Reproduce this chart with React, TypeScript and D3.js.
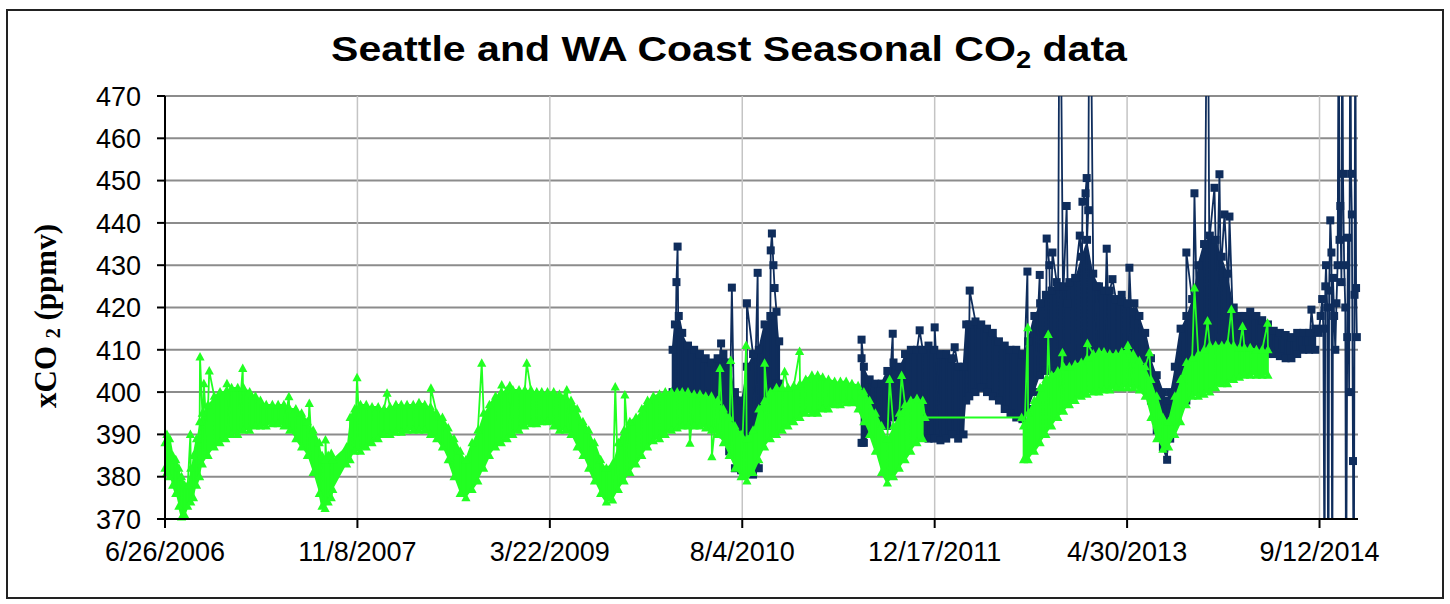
import React from "react";
import * as d3 from "d3";

const xTickLabels = ["6/26/2006", "11/8/2007", "3/22/2009", "8/4/2010", "12/17/2011", "4/30/2013", "9/12/2014"];
const yTickValues = [370, 380, 390, 400, 410, 420, 430, 440, 450, 460, 470];
const xDomainDates = ["2006-06-26", "2014-12-21"];

// Green (WA coast) series: envelope of the dense daily markers [date, low, high]
const greenBand: [string, number, number][] = [
  ["2006-06-26", 382, 388], ["2006-07-01", 381, 390], ["2006-07-08", 380, 389], ["2006-07-16", 378, 385],
  ["2006-07-24", 376, 384], ["2006-08-01", 373, 382], ["2006-08-08", 370.5, 380], ["2006-08-16", 371, 378],
  ["2006-08-24", 373, 378], ["2006-09-01", 374, 382], ["2006-09-08", 375, 385], ["2006-09-16", 378, 389],
  ["2006-09-24", 380, 393], ["2006-10-01", 383, 395], ["2006-10-16", 385, 397], ["2006-11-01", 387, 399],
  ["2006-11-16", 388, 400], ["2006-12-01", 389, 400], ["2006-12-16", 390, 401], ["2007-01-01", 390, 401],
  ["2007-01-16", 391, 401], ["2007-02-01", 391, 400], ["2007-02-16", 392, 399], ["2007-03-01", 392, 398],
  ["2007-03-16", 392, 397], ["2007-04-01", 392.5, 397], ["2007-04-16", 392.5, 397], ["2007-05-01", 392, 397],
  ["2007-05-16", 391, 396], ["2007-06-01", 389, 396], ["2007-06-16", 387, 395], ["2007-07-01", 385, 393],
  ["2007-07-16", 381, 391], ["2007-08-01", 376, 388], ["2007-08-08", 373, 385], ["2007-08-16", 372.5, 384],
  ["2007-08-24", 374, 385], ["2007-09-01", 375, 385.5], ["2007-09-05", 377, 384], ["2007-10-11", 383, 387],
  ["2007-10-20", 384, 394], ["2007-11-01", 386, 396], ["2007-11-16", 386, 397], ["2007-12-01", 387, 397],
  ["2007-12-16", 388, 396.5], ["2008-01-01", 389, 396.5], ["2008-01-16", 390, 396], ["2008-02-01", 390, 396.5],
  ["2008-02-16", 390.5, 397], ["2008-03-01", 390.5, 397], ["2008-03-16", 391, 397], ["2008-04-01", 391, 397],
  ["2008-04-16", 391, 397.5], ["2008-05-01", 391, 397], ["2008-05-16", 390, 396.5], ["2008-06-01", 389, 395],
  ["2008-06-16", 387, 394], ["2008-07-01", 384, 391.5], ["2008-07-16", 380, 389], ["2008-08-01", 376, 386],
  ["2008-08-16", 375, 384], ["2008-09-01", 377, 388], ["2008-09-16", 379, 391], ["2008-10-01", 382, 395],
  ["2008-10-16", 385, 397], ["2008-11-01", 387, 399], ["2008-11-16", 388, 400], ["2008-12-01", 389, 400.5],
  ["2008-12-16", 390, 400.5], ["2009-01-01", 391, 400.5], ["2009-01-16", 392, 400.5], ["2009-02-01", 392.5, 400.5],
  ["2009-02-16", 392.5, 400], ["2009-03-01", 393, 400], ["2009-03-16", 393, 400], ["2009-04-01", 392, 400],
  ["2009-04-16", 391, 399.5], ["2009-05-01", 391, 399], ["2009-05-16", 390, 398], ["2009-06-01", 387, 396],
  ["2009-06-16", 385, 393], ["2009-07-01", 382, 391], ["2009-07-16", 379, 388], ["2009-08-01", 376, 384],
  ["2009-08-16", 374, 382], ["2009-09-01", 374.5, 383], ["2009-09-16", 377, 388], ["2009-10-01", 379, 391],
  ["2009-10-16", 381, 393], ["2009-11-01", 383, 394], ["2009-11-16", 385, 396], ["2009-12-01", 387, 398],
  ["2009-12-16", 388.5, 399], ["2010-01-01", 389, 399.5], ["2010-01-16", 390, 400], ["2010-02-01", 391, 400],
  ["2010-02-16", 391.5, 400], ["2010-03-01", 392, 400], ["2010-03-16", 392, 400], ["2010-04-01", 392, 399.5],
  ["2010-04-16", 392, 399.5], ["2010-05-01", 391.5, 399], ["2010-05-16", 391, 399], ["2010-06-01", 390, 398],
  ["2010-06-16", 388, 396], ["2010-07-01", 385, 394], ["2010-07-16", 382, 392], ["2010-08-01", 380, 390],
  ["2010-08-16", 379, 389], ["2010-09-01", 381, 391], ["2010-09-16", 384, 396], ["2010-10-01", 387, 398],
  ["2010-10-16", 389, 400], ["2010-11-01", 390, 401], ["2010-11-16", 391, 401], ["2010-12-01", 392, 401],
  ["2010-12-16", 393, 401.5], ["2011-01-01", 394, 402], ["2011-01-16", 395, 403], ["2011-02-01", 395, 404],
  ["2011-02-16", 395, 404], ["2011-03-01", 396, 403.5], ["2011-03-16", 396, 403], ["2011-04-01", 397, 402.5],
  ["2011-04-16", 397, 402.5], ["2011-05-01", 397.5, 402.5], ["2011-05-16", 397.5, 402], ["2011-06-01", 396, 401.5],
  ["2011-06-16", 393, 400], ["2011-07-01", 390, 398], ["2011-07-16", 386, 395], ["2011-08-01", 381, 392],
  ["2011-08-16", 378.5, 389], ["2011-09-01", 380, 392], ["2011-09-16", 382, 395], ["2011-10-01", 384, 397],
  ["2011-10-16", 386, 398], ["2011-11-01", 388, 398.5], ["2011-11-16", 389, 398], ["2011-11-22", 394, 394],
  ["2012-07-30", 394, 394], ["2012-08-04", 384, 392], ["2012-08-16", 384, 395], ["2012-09-01", 386, 398],
  ["2012-09-16", 388, 401], ["2012-10-01", 390, 403], ["2012-10-16", 392, 404], ["2012-11-01", 394, 405],
  ["2012-11-16", 395.5, 406], ["2012-12-01", 397, 406], ["2012-12-16", 398, 406.5], ["2013-01-01", 399, 407],
  ["2013-01-16", 399.5, 408], ["2013-02-01", 400, 409], ["2013-02-16", 400, 409.5], ["2013-03-01", 400.5, 409.5],
  ["2013-03-16", 400.5, 409], ["2013-04-01", 401, 409], ["2013-04-16", 401, 409.5], ["2013-05-01", 401, 410],
  ["2013-05-16", 401, 409], ["2013-06-01", 400.5, 407.5], ["2013-06-16", 399, 406], ["2013-07-01", 394, 403],
  ["2013-07-16", 389, 399], ["2013-08-01", 386.5, 394], ["2013-08-16", 387, 393], ["2013-09-01", 390, 399],
  ["2013-09-16", 393, 403], ["2013-10-01", 397, 407], ["2013-10-16", 399, 408], ["2013-11-01", 399, 409],
  ["2013-11-16", 399.5, 410], ["2013-12-01", 400, 411], ["2013-12-16", 401, 411], ["2014-01-01", 402, 411],
  ["2014-01-16", 402, 411.5], ["2014-02-01", 403, 411], ["2014-02-16", 403.5, 410.5], ["2014-03-01", 404, 410.5],
  ["2014-03-16", 404, 410.5], ["2014-04-01", 404, 410], ["2014-04-16", 404, 410], ["2014-05-01", 404, 410],
];

const greenSpikes: [string, number][] = [
  ["2006-08-31", 390], ["2006-09-25", 408.3], ["2006-10-05", 402], ["2006-10-19", 405], ["2006-12-04", 402],
  ["2007-01-14", 405.6], ["2007-05-14", 398.9], ["2007-07-06", 397.3], ["2007-08-17", 388.7], ["2007-11-07", 403.4],
  ["2008-01-24", 399.7], ["2008-05-17", 400.9], ["2008-09-26", 406.8], ["2008-11-17", 401.7], ["2008-12-08", 401.5],
  ["2009-01-21", 406.8], ["2009-05-05", 400.5], ["2009-09-08", 401.2], ["2009-10-03", 399.3], ["2010-03-21", 387.9],
  ["2010-05-17", 384.7], ["2010-06-07", 405.6], ["2010-07-05", 407.5], ["2010-08-14", 411], ["2010-10-01", 406.8],
  ["2010-11-22", 404.8], ["2010-12-31", 409.6], ["2011-08-22", 403], ["2011-09-22", 403.9], ["2012-08-15", 415.2],
  ["2012-10-07", 413.6], ["2012-11-13", 409.3], ["2013-01-17", 411.5], ["2013-05-02", 411], ["2013-06-27", 409.3],
  ["2013-10-22", 424.6], ["2013-11-25", 416.8], ["2014-01-26", 419.5], ["2014-02-24", 415.5], ["2014-04-30", 416.3],
];

// Navy (Seattle) series envelope [date, low, high]; null marks the data gap
const navyBand: [string, number | null, number | null][] = [
  ["2010-02-04", 400, 410], ["2010-02-10", 399, 416], ["2010-02-20", 400, 418], ["2010-03-01", 399, 414],
  ["2010-03-16", 398.5, 411], ["2010-04-01", 398, 410], ["2010-04-16", 397, 409], ["2010-05-01", 396.5, 408],
  ["2010-05-16", 396, 407], ["2010-06-01", 394, 408], ["2010-06-16", 390, 409], ["2010-07-01", 386, 407],
  ["2010-07-16", 382, 400], ["2010-08-01", 381.5, 398], ["2010-08-16", 381, 406], ["2010-09-01", 380.5, 409],
  ["2010-09-16", 382, 410], ["2010-10-01", 398, 416], ["2010-10-16", 401, 418], ["2010-11-01", 402, 419],
  ["2010-11-08", 402, 412], ["2010-11-20", null, null],
  ["2011-06-10", 388, 408], ["2011-06-16", 388, 406], ["2011-07-01", 391, 403], ["2011-07-16", 392, 402],
  ["2011-08-01", 392.5, 402], ["2011-08-16", 392, 405], ["2011-09-01", 394, 407], ["2011-09-16", 395, 406],
  ["2011-10-01", 392, 409], ["2011-10-16", 390, 410], ["2011-11-01", 390, 410], ["2011-11-16", 390, 410],
  ["2011-12-01", 389, 411], ["2011-12-16", 389, 410], ["2012-01-01", 388.6, 409], ["2012-01-16", 389, 409],
  ["2012-02-01", 390, 408], ["2012-02-16", 389, 406], ["2012-03-01", 390, 406], ["2012-03-08", 398, 416],
  ["2012-03-16", 399, 416], ["2012-04-01", 400, 416.7], ["2012-04-16", 401, 416], ["2012-05-01", 400, 415],
  ["2012-05-16", 399, 414], ["2012-06-01", 398, 412], ["2012-06-16", 396, 411], ["2012-07-01", 395, 410],
  ["2012-07-16", 394, 410], ["2012-08-01", 393.6, 409], ["2012-08-16", 396, 412], ["2012-09-01", 400, 418],
  ["2012-09-16", 404, 421], ["2012-10-01", 405, 423], ["2012-10-16", 405, 424], ["2012-11-01", 405, 425],
  ["2012-11-16", 405, 425], ["2012-12-01", 405, 426], ["2012-12-16", 405, 427], ["2013-01-01", 406, 432],
  ["2013-01-16", 409, 436], ["2013-02-01", 407, 428], ["2013-02-16", 406, 425], ["2013-03-01", 406, 424],
  ["2013-03-16", 406.5, 424], ["2013-04-01", 406.5, 422], ["2013-04-16", 406.5, 421.5], ["2013-05-01", 406, 421],
  ["2013-05-16", 407, 419], ["2013-06-01", 406, 418], ["2013-06-16", 404, 414], ["2013-07-01", 398, 408],
  ["2013-07-16", 391, 404], ["2013-08-01", 387, 400], ["2013-08-12", 384, 398], ["2013-08-20", 389, 400],
  ["2013-09-01", 393, 406], ["2013-09-16", 397, 415], ["2013-10-01", 398, 418], ["2013-10-16", 400, 422],
  ["2013-11-01", 404, 430], ["2013-11-16", 404, 435], ["2013-12-01", 406, 437], ["2013-12-16", 408, 436],
  ["2014-01-01", 410, 432], ["2014-01-16", 410, 428], ["2014-02-01", 411, 420], ["2014-02-16", 411, 418],
  ["2014-03-01", 410.5, 418], ["2014-03-16", 410.5, 419], ["2014-04-01", 410.5, 418], ["2014-04-16", 410.5, 417],
  ["2014-05-01", 409, 416], ["2014-05-16", 409, 414.5], ["2014-06-01", 408.5, 414], ["2014-06-16", 408, 413.5],
  ["2014-07-01", 408, 413], ["2014-07-16", 409, 414], ["2014-08-01", 410, 414], ["2014-08-16", 410, 414],
  ["2014-09-01", 410, 415],
];

const navySpikes: [string, number][] = [
  ["2010-02-14", 426], ["2010-02-17", 434.4], ["2010-06-10", 411.5], ["2010-07-08", 424.7], ["2010-08-16", 421],
  ["2010-09-13", 428.2], ["2010-10-17", 433.5], ["2010-10-20", 437.5], ["2010-10-24", 430], ["2010-10-27", 424.6],
  ["2011-06-10", 412.4], ["2011-08-30", 413.8], ["2011-11-08", 414.6], ["2011-12-17", 415.3], ["2012-02-07", 410.6],
  ["2012-03-17", 424], ["2012-08-14", 428.5], ["2012-09-15", 427.7], ["2012-10-03", 436.3], ["2012-10-10", 430],
  ["2012-10-18", 433], ["2012-10-29", 426], ["2012-11-06", 520], ["2012-11-24", 444], ["2012-11-27", 421],
  ["2012-12-28", 437], ["2013-01-04", 445], ["2013-01-12", 447], ["2013-01-15", 450.6], ["2013-01-19", 443],
  ["2013-01-23", 520], ["2013-02-10", 425], ["2013-03-08", 433.9], ["2013-03-23", 426.7], ["2013-04-16", 423],
  ["2013-05-06", 429.4], ["2013-05-19", 421], ["2013-10-01", 433], ["2013-10-22", 447], ["2013-11-25", 520],
  ["2013-12-13", 448.3], ["2013-12-26", 451.5], ["2014-01-08", 442], ["2014-01-21", 441.5], ["2014-08-22", 419.5],
  ["2014-09-10", 414], ["2014-09-15", 418], ["2014-09-19", 422], ["2014-09-22", 415], ["2014-09-25", 350],
  ["2014-09-27", 425], ["2014-09-29", 430], ["2014-10-02", 420], ["2014-10-05", 340], ["2014-10-07", 424],
  ["2014-10-10", 440.6], ["2014-10-13", 433], ["2014-10-15", 345], ["2014-10-17", 427], ["2014-10-20", 418],
  ["2014-10-23", 410], ["2014-10-26", 421], ["2014-10-29", 430], ["2014-11-01", 500], ["2014-11-03", 436],
  ["2014-11-05", 444], ["2014-11-08", 426], ["2014-11-10", 500], ["2014-11-12", 451.6], ["2014-11-15", 430],
  ["2014-11-18", 420], ["2014-11-20", 345], ["2014-11-23", 413], ["2014-11-25", 436.5], ["2014-11-28", 400],
  ["2014-12-01", 500], ["2014-12-03", 451.6], ["2014-12-05", 442], ["2014-12-08", 383.7], ["2014-12-10", 340],
  ["2014-12-12", 423], ["2014-12-14", 500], ["2014-12-16", 424.6], ["2014-12-18", 413],
];

const NAVY = "#0f2d5c";
const GREEN = "#22ff22";

const W = 1450, H = 604;
const L = 165, R = 1358, T = 96, B = 519;

const parseISO = d3.utcParse("%Y-%m-%d");
const parseTick = d3.utcParse("%m/%d/%Y");

type P = { t: Date; v: number | null };

function buildSeq(band: [string, number | null, number | null][], spikes: [string, number][]): P[] {
  const items: { t: Date; pts: (number | null)[] }[] = [];
  band.forEach((r, i) => {
    const t = parseISO(r[0])!;
    let pts: (number | null)[];
    if (r[1] == null || r[2] == null) pts = [null];
    else if (r[1] === r[2]) pts = [r[1]];
    else pts = i % 2 === 0 ? [r[1], r[2]] : [r[2], r[1]];
    items.push({ t, pts });
  });
  spikes.forEach((s) => items.push({ t: parseISO(s[0])!, pts: [s[1]] }));
  items.sort((a, b) => +a.t - +b.t);
  const out: P[] = [];
  items.forEach((it) => it.pts.forEach((v) => out.push({ t: it.t, v })));
  return out;
}

export default function App() {
  const x = d3.scaleUtc().domain([parseISO(xDomainDates[0])!, parseISO(xDomainDates[1])!]).range([L, R]);
  const y = d3.scaleLinear().domain([370, 470]).range([B, T]);

  const greenSeq = buildSeq(greenBand, greenSpikes);
  const navySeq = buildSeq(navyBand, navySpikes);

  const line = d3
    .line<P>()
    .defined((p) => p.v != null)
    .x((p) => x(p.t))
    .y((p) => y(p.v as number));

  type BR = [string, number | null, number | null];
  const area = d3
    .area<BR>()
    .defined((r) => r[1] != null && r[1] !== r[2])
    .x((r) => x(parseISO(r[0])!))
    .y0((r) => y(r[1] as number))
    .y1((r) => y(r[2] as number));

  const inRange = (p: P) => p.v != null && p.v >= 369 && p.v <= 471;
  const tickDates = xTickLabels.map((s) => parseTick(s)!);

  const tri = "M0,-5 L4.6,3.5 L-4.6,3.5 Z";

  return (
    <svg width={W} height={H} style={{ position: "absolute", left: 0, top: 0, background: "#fff" }}
      fontFamily="'Liberation Sans', Arial, sans-serif">
      <defs>
        <clipPath id="plotClip">
          <rect x={L} y={T} width={R - L} height={B - T} />
        </clipPath>
      </defs>
      <rect x={7} y={10} width={1436} height={588} fill="#fff" stroke="#222" strokeWidth={2} />

      {/* title */}
      <g transform="translate(729,61) scale(1.14,1)">
        <text x={0} y={0} textAnchor="middle" fontSize={36} fontWeight="bold" fill="#000">
          Seattle and WA Coast Seasonal CO<tspan fontSize={24} dy={7}>2</tspan><tspan dy={-7}> data</tspan>
        </text>
      </g>

      {/* y axis label */}
      <text transform="translate(56,316) rotate(-90)" textAnchor="middle" fontSize={31} fontWeight="bold"
        fontFamily="'Liberation Serif', 'Times New Roman', serif" fill="#000">
        xCO <tspan fontSize={20} dy={4}>2</tspan><tspan dy={-4}> (ppmv)</tspan>
      </text>

      {/* horizontal gridlines */}
      {yTickValues.map((v) => (
        <line key={"hg" + v} x1={L} x2={R} y1={y(v)} y2={y(v)} stroke="#8c8c8c" strokeWidth={2} />
      ))}
      {/* vertical gridlines */}
      {tickDates.slice(1).map((d, i) => (
        <line key={"vg" + i} x1={x(d)} x2={x(d)} y1={T} y2={B} stroke="#c4c4c4" strokeWidth={1.5} />
      ))}

      {/* navy series */}
      <g clipPath="url(#plotClip)">
        <path d={area(navyBand) || ""} fill={NAVY} stroke="none" />
        <path d={line(navySeq) || ""} fill="none" stroke={NAVY} strokeWidth={1.8} />
      </g>
      <g>
        {navySeq.filter(inRange).map((p, i) => (
          <rect key={"nm" + i} x={x(p.t) - 4} y={y(p.v as number) - 4} width={8} height={8} fill={NAVY} />
        ))}
      </g>

      {/* green series */}
      <g clipPath="url(#plotClip)">
        <path d={area(greenBand as BR[]) || ""} fill={GREEN} stroke="none" />
        <path d={line(greenSeq) || ""} fill="none" stroke={GREEN} strokeWidth={1.8} />
      </g>
      <g>
        {greenSeq.filter(inRange).map((p, i) => (
          <path key={"gm" + i} d={tri} transform={`translate(${x(p.t)},${y(p.v as number)})`} fill={GREEN} />
        ))}
      </g>

      {/* axes */}
      <line x1={L} x2={L} y1={T} y2={B} stroke="#000" strokeWidth={2} />
      <line x1={L} x2={R} y1={B} y2={B} stroke="#000" strokeWidth={2} />
      {yTickValues.map((v) => (
        <g key={"yt" + v}>
          <line x1={L - 8} x2={L} y1={y(v)} y2={y(v)} stroke="#000" strokeWidth={2} />
          <text x={141} y={y(v)} dy="0.36em" textAnchor="end" fontSize={27} fill="#000">{v}</text>
        </g>
      ))}
      {tickDates.map((d, i) => (
        <g key={"xt" + i}>
          <line x1={x(d)} x2={x(d)} y1={B} y2={B + 9} stroke="#000" strokeWidth={2} />
          <text x={x(d)} y={561} textAnchor="middle" fontSize={27} fill="#000">{xTickLabels[i]}</text>
        </g>
      ))}
    </svg>
  );
}
